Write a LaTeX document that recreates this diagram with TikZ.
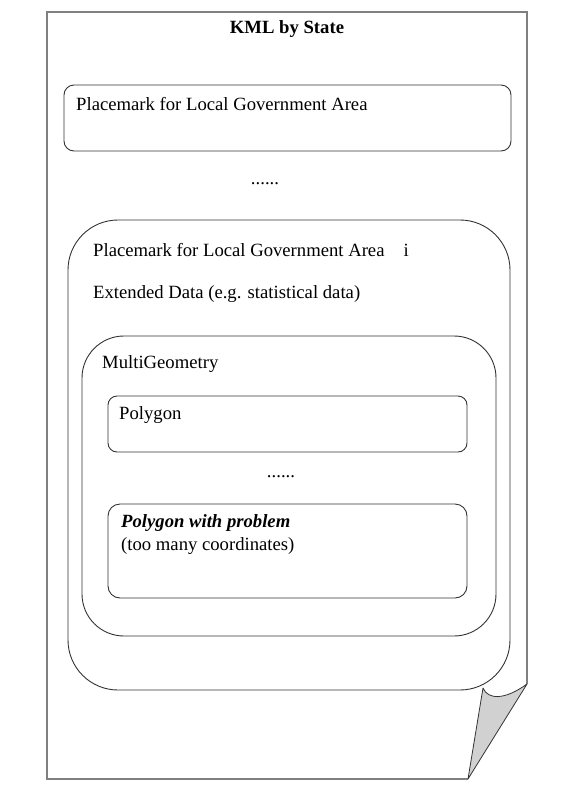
\documentclass[tikz,border=0pt]{standalone}
\usepackage{fontspec}
\setmainfont{Liberation Serif}
\begin{document}
\begin{tikzpicture}[x=1pt,y=-1pt,
  box/.style={draw=black!80, line width=0.9pt, inner sep=0pt},
  lbl/.style={anchor=base west, inner sep=0pt, font=\fontsize{18.67}{22}\selectfont},
  clbl/.style={anchor=base, inner sep=0pt, font=\fontsize{18.67}{22}\selectfont}]
\useasboundingbox (0,0) rectangle (577,793);
% page
\draw[line width=1.8pt, draw=black!50, line join=miter] (468,779) -- (47,779) -- (47,12) -- (527,12) -- (527,684);
\filldraw[fill=black!18, draw=black!80, line width=0.8pt, line join=round]
  (468,779) -- (483,688) .. controls (488,700) and (505,700) .. (527,684) -- cycle;
% boxes
\node[box, minimum width=447pt, minimum height=66pt, rounded corners=10pt] (b1) at (287.5,118) {};
\node[box, minimum width=442pt, minimum height=470pt, rounded corners=50pt] (b2) at (289,455) {};
\node[box, minimum width=414pt, minimum height=300pt, rounded corners=42pt] (b3) at (289,486) {};
\node[box, minimum width=359pt, minimum height=56pt, rounded corners=9pt] (b4) at (287.5,424) {};
\node[box, minimum width=359pt, minimum height=94pt, rounded corners=12pt] (b5) at (287.5,551) {};
% texts
\node[clbl, font=\fontsize{18.67}{22}\selectfont\bfseries] (title) at (287,33) {KML by State};
\node[lbl] (t1) at (76,110) {Placemark for Local Government Area};
\node[clbl] (d1) at (265,184) {......};
\node[lbl] (t2) at (93,256) {Placemark for Local Government Area\hspace{19pt}i};
\node[lbl] (t3) at (93,298) {Extended Data (e.g. statistical data)};
\node[lbl] (t4) at (102,368) {MultiGeometry};
\node[lbl] (t5) at (119,419) {Polygon};
\node[clbl] (d2) at (281,477) {......};
\node[lbl, font=\fontsize{18.67}{22}\selectfont\bfseries\itshape] (t6) at (121,527) {Polygon with problem};
\node[lbl] (t7) at (121,550) {(too many coordinates)};
\end{tikzpicture}
\end{document}
